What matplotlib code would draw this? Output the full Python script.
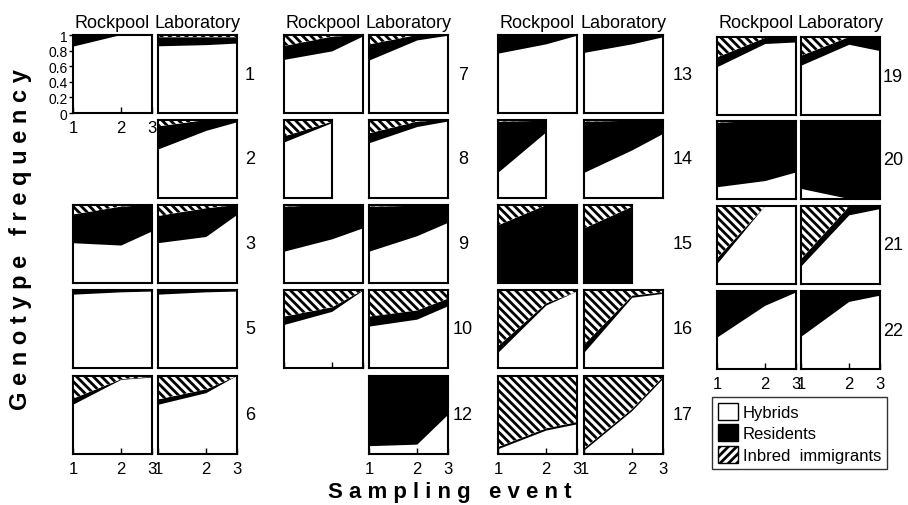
import matplotlib
matplotlib.use("Agg")
import matplotlib.pyplot as plt
from matplotlib.patches import Patch

plt.rcParams['font.family'] = ['Liberation Sans', 'DejaVu Sans']
plt.rcParams['hatch.linewidth'] = 2.0

# sampling events: position on the time axis (event 2 sits ~61% along)
event_day = [0, 11, 18]
event_labels = ['1', '2', '3']

# genotype frequencies per population, one value per sampling event
rock_hybrids = {1: [0.85, 1.0, 1.0], 3: [0.51, 0.48, 0.66], 5: [0.94, 0.97, 0.98],
                6: [0.63, 0.95, 0.98], 7: [0.68, 0.79, 0.98], 8: [0.71, 0.96],
                9: [0.40, 0.56, 0.70], 10: [0.55, 0.72, 0.99], 13: [0.76, 0.88, 0.99],
                14: [0.32, 0.84], 15: [0.0, 0.0, 0.0], 16: [0.19, 0.80, 0.98],
                17: [0.06, 0.30, 0.38], 19: [0.61, 0.91, 0.93], 20: [0.15, 0.23, 0.34],
                21: [0.25, 1.0, 1.0], 22: [0.40, 0.81, 0.98]}
rock_residents = {1: [0.15, 0.0, 0.0], 3: [0.37, 0.50, 0.34], 5: [0.06, 0.03, 0.02],
                  6: [0.08, 0.01, 0.01], 7: [0.18, 0.19, 0.02], 8: [0.08, 0.02],
                  9: [0.58, 0.44, 0.30], 10: [0.11, 0.06, 0.01], 13: [0.24, 0.12, 0.01],
                  14: [0.66, 0.15], 15: [0.74, 1.0, 1.0], 16: [0.09, 0.03, 0.0],
                  17: [0.03, 0.03, 0.03], 19: [0.13, 0.08, 0.07], 20: [0.83, 0.77, 0.66],
                  21: [0.08, 0.0, 0.0], 22: [0.60, 0.19, 0.02]}
rock_immigrants = {1: [0.0, 0.0, 0.0], 3: [0.12, 0.02, 0.0], 5: [0.0, 0.0, 0.0],
                   6: [0.29, 0.04, 0.01], 7: [0.14, 0.02, 0.0], 8: [0.21, 0.02],
                   9: [0.02, 0.0, 0.0], 10: [0.34, 0.22, 0.0], 13: [0.0, 0.0, 0.0],
                   14: [0.02, 0.01], 15: [0.26, 0.0, 0.0], 16: [0.72, 0.17, 0.02],
                   17: [0.91, 0.67, 0.59], 19: [0.26, 0.01, 0.0], 20: [0.02, 0.0, 0.0],
                   21: [0.67, 0.0, 0.0], 22: [0.0, 0.0, 0.0]}

lab_hybrids = {1: [0.855, 0.87, 0.89], 2: [0.62, 0.86, 0.97], 3: [0.51, 0.59, 0.87],
               5: [0.94, 0.97, 0.98], 6: [0.63, 0.78, 1.0], 7: [0.67, 0.93, 0.99],
               8: [0.70, 0.91, 0.98], 9: [0.40, 0.60, 0.77], 10: [0.53, 0.62, 0.79],
               12: [0.10, 0.12, 0.50], 13: [0.77, 0.88, 0.97], 14: [0.32, 0.61, 0.82],
               15: [0.0, 0.0], 16: [0.19, 0.90, 0.95], 17: [0.04, 0.55, 0.96],
               19: [0.63, 0.90, 0.82], 20: [0.13, 0.0, 0.0], 21: [0.22, 0.88, 0.96],
               22: [0.41, 0.86, 0.94]}
lab_residents = {1: [0.115, 0.10, 0.08], 2: [0.30, 0.14, 0.03], 3: [0.35, 0.37, 0.13],
                 5: [0.06, 0.03, 0.02], 6: [0.07, 0.05, 0.0], 7: [0.21, 0.07, 0.01],
                 8: [0.13, 0.07, 0.02], 9: [0.58, 0.39, 0.23], 10: [0.13, 0.12, 0.10],
                 12: [0.90, 0.88, 0.50], 13: [0.23, 0.12, 0.03], 14: [0.66, 0.38, 0.17],
                 15: [0.70, 0.98], 16: [0.11, 0.03, 0.02], 17: [0.03, 0.03, 0.03],
                 19: [0.13, 0.10, 0.18], 20: [0.87, 1.0, 1.0], 21: [0.10, 0.12, 0.04],
                 22: [0.59, 0.14, 0.06]}
lab_immigrants = {1: [0.03, 0.03, 0.03], 2: [0.08, 0.0, 0.0], 3: [0.14, 0.04, 0.0],
                  5: [0.0, 0.0, 0.0], 6: [0.30, 0.17, 0.0], 7: [0.12, 0.0, 0.0],
                  8: [0.17, 0.02, 0.0], 9: [0.02, 0.01, 0.0], 10: [0.34, 0.26, 0.11],
                  12: [0.0, 0.0, 0.0], 13: [0.0, 0.0, 0.0], 14: [0.02, 0.01, 0.01],
                  15: [0.30, 0.02], 16: [0.70, 0.07, 0.03], 17: [0.93, 0.42, 0.01],
                  19: [0.24, 0.0, 0.0], 20: [0.0, 0.0, 0.0], 21: [0.68, 0.0, 0.0],
                  22: [0.0, 0.0, 0.0]}

# panel grid: population -> (column, row)
grid = {1: (0, 0), 2: (0, 1), 3: (0, 2), 5: (0, 3), 6: (0, 4),
        7: (1, 0), 8: (1, 1), 9: (1, 2), 10: (1, 3), 12: (1, 4),
        13: (2, 0), 14: (2, 1), 15: (2, 2), 16: (2, 3), 17: (2, 4),
        19: (3, 0), 20: (3, 1), 21: (3, 2), 22: (3, 3)}

W, H = 908, 506
rock_left = [73, 284, 498, 717]
lab_left = [158, 369, 584, 801]
num_x = [250, 463, 683, 893]
row_top = [[36, 121, 206, 291, 377]] * 3 + [[38, 122, 207, 292]]
pw, ph = 79, 78

labelled = {(1, 'rock'), (6, 'rock'), (6, 'lab'), (12, 'lab'), (17, 'rock'),
            (17, 'lab'), (22, 'rock'), (22, 'lab')}
ticks_only = {(10, 'rock')}
HATCH = '\\\\\\\\'

fig = plt.figure(figsize=(W / 100, H / 100), dpi=100)


def add_ax(left, top, width, height):
    return fig.add_axes([left / W, 1 - (top + height) / H, width / W, height / H])


def draw(ax, h, r, i):
    x = event_day[:len(h)]
    b1 = h
    b2 = [a + b for a, b in zip(h, r)]
    b3 = [a + b for a, b in zip(b2, i)]
    ax.fill_between(x, 0, b1, facecolor='white', linewidth=0)
    ax.fill_between(x, b1, b2, facecolor='black', linewidth=0)
    ax.fill_between(x, b2, b3, facecolor='white', edgecolor='black',
                    hatch=HATCH, linewidth=0)
    ax.set_xlim(x[0], x[-1])
    ax.set_ylim(0, 1)
    for s in ax.spines.values():
        s.set_linewidth(1.5)


for pop, (col, row) in grid.items():
    top = row_top[col][row]
    for site, left, hd, rd, idd in [('rock', rock_left[col], rock_hybrids, rock_residents, rock_immigrants),
                                     ('lab', lab_left[col], lab_hybrids, lab_residents, lab_immigrants)]:
        if pop not in hd:
            continue
        n = len(hd[pop])
        width = pw * (event_day[n - 1] - event_day[0]) / (event_day[-1] - event_day[0])
        ax = add_ax(left, top, width, ph)
        draw(ax, hd[pop], rd[pop], idd[pop])
        ax.set_yticks([])
        if (pop, site) in labelled:
            ax.set_xticks(event_day)
            ax.set_xticklabels(event_labels)
            ax.tick_params(axis='x', direction='in', length=4, width=1, labelsize=12, pad=5)
        elif (pop, site) in ticks_only:
            ax.set_xticks(event_day)
            ax.set_xticklabels([])
            ax.tick_params(axis='x', direction='in', length=4, width=1)
        else:
            ax.set_xticks([])
        if pop == 1 and site == 'rock':
            ax.set_yticks([0, 0.2, 0.4, 0.6, 0.8, 1])
            ax.set_yticklabels(['0', '0.2', '0.4', '0.6', '0.8', '1'])
            ax.tick_params(axis='y', direction='out', length=3, width=1, labelsize=10, pad=1)
    fig.text(num_x[col] / W, 1 - (top + ph / 2) / H, str(pop),
             ha='center', va='center', fontsize=13)

for col in range(4):
    y = 1 - 23 / H
    fig.text((rock_left[col] + pw / 2) / W, y, 'Rockpool', ha='center', va='center', fontsize=13)
    fig.text((lab_left[col] + pw / 2) / W, y, 'Laboratory', ha='center', va='center', fontsize=13)

fig.text(21 / W, 1 - 240 / H, 'G e n o t y p e   f r e q u e n c y', rotation=90,
         ha='center', va='center', fontsize=17, fontweight='bold')
fig.text(450 / W, 1 - 493 / H, 'S a m p l i n g   e v e n t',
         ha='center', va='center', fontsize=16, fontweight='bold')

handles = [Patch(facecolor='white', edgecolor='black', label='Hybrids'),
           Patch(facecolor='black', edgecolor='black', label='Residents'),
           Patch(facecolor='white', edgecolor='black', hatch='////', label='Inbred  immigrants')]
leg = fig.legend(handles=handles, loc='upper left', bbox_to_anchor=(712 / W, 1 - 398 / H),
                 frameon=True, fancybox=False, fontsize=12, handlelength=1.2,
                 handleheight=1.2, handletextpad=0.3, labelspacing=0.25,
                 borderpad=0.35, borderaxespad=0)
leg.get_frame().set_edgecolor('black')
leg.get_frame().set_linewidth(1.0)

fig.savefig('out.png', dpi=100)
